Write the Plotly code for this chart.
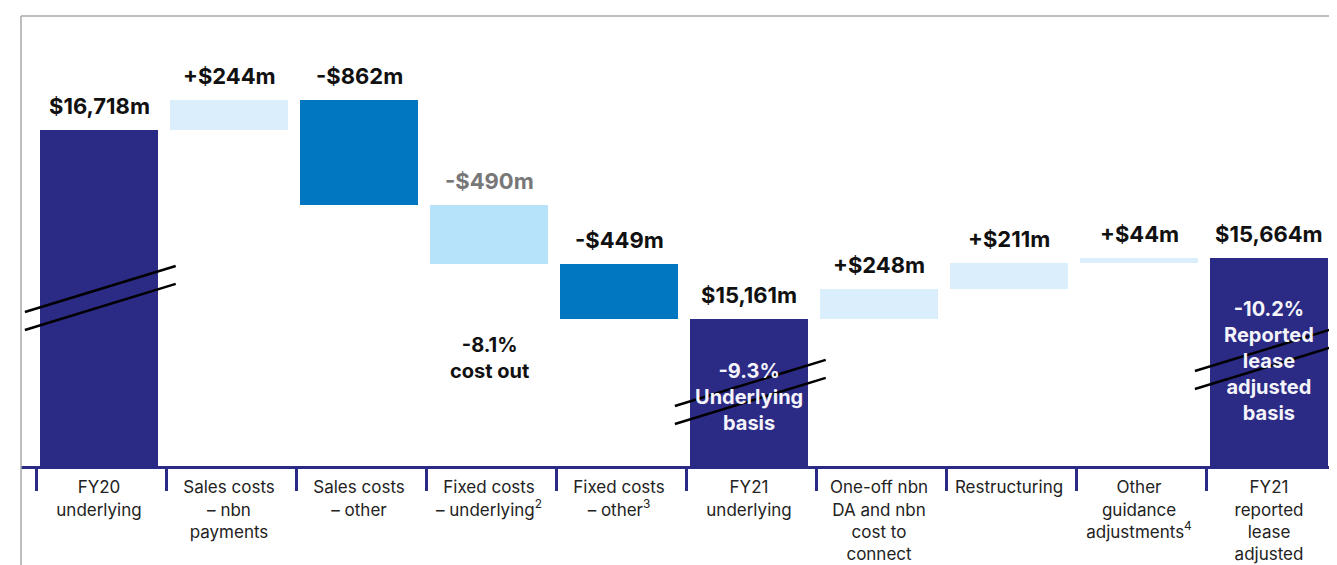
import plotly.graph_objects as go

# --- data (A$m) ---
categories = [
    "FY20<br>underlying",
    "Sales costs<br>– nbn<br>payments",
    "Sales costs<br>– other",
    "Fixed costs<br>– underlying<sup>2</sup>",
    "Fixed costs<br>– other<sup>3</sup>",
    "FY21<br>underlying",
    "One-off nbn<br>DA and nbn<br>cost to<br>connect",
    "Restructuring",
    "Other<br>guidance<br>adjustments<sup>4</sup>",
    "FY21<br>reported<br>lease<br>adjusted",
]
values = [16718, 244, -862, -490, -449, 15161, 248, 211, 44, 15664]
is_total = [True, False, False, False, False, True, False, False, False, True]

# colours
NAVY = "#2B2A84"
BLUE = "#0077C0"
PALE = "#DBEEFB"
LIGHT = "#B6E3F9"
bar_colors = [NAVY, PALE, BLUE, LIGHT, BLUE, NAVY, PALE, PALE, PALE, NAVY]
label_colors = ["#111111"] * 10
label_colors[3] = "#777777"

# truncated value axis (the chart has axis-break marks)
Y_MIN, Y_MAX = 13950, 17657

# --- build waterfall geometry ---
bases, heights, tops = [], [], []
running = 0
for v, tot in zip(values, is_total):
    if tot:
        running = v
        bases.append(Y_MIN)
        heights.append(v - Y_MIN)
        tops.append(v)
    else:
        new = running + v
        lo, hi = min(running, new), max(running, new)
        bases.append(lo)
        heights.append(hi - lo)
        tops.append(hi)
        running = new


def fmt(v, tot):
    if tot:
        return f"${v:,}m"
    return f"+${v:,}m" if v > 0 else f"-${abs(v):,}m"


x_idx = list(range(len(categories)))

fig = go.Figure()
fig.add_trace(go.Bar(
    x=x_idx,
    y=heights,
    base=bases,
    width=0.915,
    marker=dict(color=bar_colors, line=dict(width=0)),
    hoverinfo="skip",
))

# value labels above each bar
for i, (v, tot) in enumerate(zip(values, is_total)):
    fig.add_annotation(
        x=i, y=tops[i], text=fmt(v, tot),
        showarrow=False, yanchor="bottom", yshift=9,
        font=dict(family="Inter", size=22, color=label_colors[i], weight="bold"),
    )

# commentary labels
fig.add_annotation(x=3, y=14840, text="-8.1%<br>cost out", showarrow=False,
                   font=dict(family="Inter", size=20, color="#111111", weight="bold"))
fig.add_annotation(x=5, y=14518, text="-9.3%<br>Underlying<br>basis", showarrow=False,
                   font=dict(family="Inter", size=20, color="#F4F4FA", weight="bold"))
fig.add_annotation(x=9, y=14811, text="-10.2%<br>Reported<br>lease<br>adjusted<br>basis",
                   showarrow=False,
                   font=dict(family="Inter", size=20, color="#F4F4FA", weight="bold"))

# axis-break marks on the total bars (pairs of slanted lines)
breaks = {0: 15408, 5: 14634, 9: 14922}
for i, yc in breaks.items():
    for off in (0, -148):
        fig.add_shape(type="line", xref="x", yref="y",
                      x0=i - 0.57, x1=i + 0.59,
                      y0=yc + off - 190, y1=yc + off + 190,
                      line=dict(color="#000000", width=2.5))

# light grey frame (top and left)
fig.add_shape(type="line", xref="paper", yref="paper", x0=0, x1=1, y0=1, y1=1,
              line=dict(color="#A8A8A8", width=1.5))
fig.add_shape(type="line", xref="paper", yref="paper", x0=0, x1=0, y0=-0.23, y1=1,
              line=dict(color="#A8A8A8", width=1.5))

# page body keeps an 8px margin, so the figure is sized to fit inside it
fig.update_layout(
    width=1329, height=557,
    margin=dict(l=13, r=0, t=8, b=99),
    paper_bgcolor="white", plot_bgcolor="white",
    showlegend=False,
    bargap=0,
    xaxis=dict(
        range=[-0.6, 9.523],
        tickmode="array", tickvals=x_idx, ticktext=categories,
        ticks="", showgrid=False, zeroline=False,
        showline=True, linecolor=NAVY, linewidth=3,
        tickfont=dict(family="Inter", size=17, color="#222222"),
        ticklabelstandoff=4,
        minor=dict(tickmode="array", tickvals=[k - 0.48 for k in range(11)],
                   ticks="outside", ticklen=22, tickwidth=3, tickcolor=NAVY,
                   showgrid=False),
        automargin=False,
    ),
    yaxis=dict(range=[Y_MIN, Y_MAX], visible=False, fixedrange=True),
)

fig.write_html("out.html")
